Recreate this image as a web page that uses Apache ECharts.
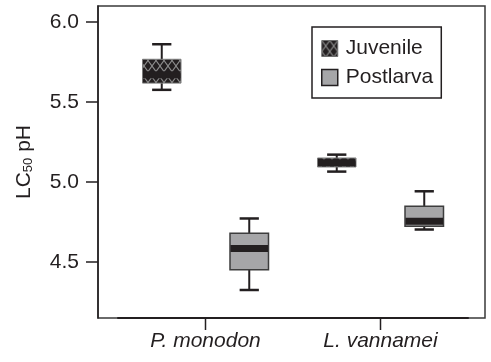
<!DOCTYPE html>
<html>
<head>
<meta charset="utf-8">
<script src="https://cdn.jsdelivr.net/npm/echarts@6/dist/echarts.min.js"></script>
<style>
  html, body { margin: 0; padding: 0; background: #fff; }
  #chart { width: 491px; height: 362px; }
</style>
</head>
<body>
<div id="chart"></div>
<script>
// Species on the x axis
const categories = ['P. monodon', 'L. vannamei'];
// Box statistics per species: [min, Q1, median, Q3, max] of LC50 pH
const juvenile = [
  [5.576, 5.618, 5.670, 5.767, 5.861],
  [5.065, 5.094, 5.120, 5.150, 5.171]
];
const postlarva = [
  [4.325, 4.452, 4.585, 4.680, 4.772],
  [4.703, 4.724, 4.755, 4.848, 4.942]
];
// Y axis tick labels
const yTicks = [4.5, 5.0, 5.5, 6.0];
// Category positions on the x axis
const xTicks = categories.map((c, i) => i);

const Y_MIN = 4.15, Y_MAX = 6.1;
const INK = '#231f20';
const FONT = 'Liberation Sans, Arial, Helvetica, sans-serif';
const FS = 21;

// Cross-hatch fill for the juvenile boxes
function makeHatch() {
  const c = document.createElement('canvas');
  c.width = 8; c.height = 11;
  const g = c.getContext('2d');
  g.fillStyle = INK;
  g.fillRect(0, 0, 8, 11);
  g.strokeStyle = '#8c8c8c';
  g.lineWidth = 1.1;
  g.beginPath();
  g.moveTo(0, 0); g.lineTo(8, 11);
  g.moveTo(8, 0); g.lineTo(0, 11);
  g.stroke();
  return { image: c, repeat: 'repeat' };
}
const hatch = makeHatch();
const POST_FILL = '#a6a6a8';

function toRows(stats) {
  return stats.map((s, i) => [i].concat(s));
}

function boxRenderer(offset, fill, border, borderWidth) {
  return function (params, api) {
    const cat = api.value(0);
    const band = api.size([1, 0])[0];
    const cx = api.coord([cat + offset, 0])[0];
    const y = k => api.coord([cat, api.value(k)])[1];
    const lo = y(1), q1 = y(2), med = y(3), q3 = y(4), hi = y(5);
    const bw = band * 0.22, cw = band * 0.11;
    const whisker = { stroke: INK, lineWidth: 2 };
    const cap = { stroke: INK, lineWidth: 2.5 };
    return {
      type: 'group',
      children: [
        { type: 'line', shape: { x1: cx, y1: hi, x2: cx, y2: q3 }, style: whisker },
        { type: 'line', shape: { x1: cx, y1: q1, x2: cx, y2: lo }, style: whisker },
        { type: 'line', shape: { x1: cx - cw / 2, y1: hi, x2: cx + cw / 2, y2: hi }, style: cap },
        { type: 'line', shape: { x1: cx - cw / 2, y1: lo, x2: cx + cw / 2, y2: lo }, style: cap },
        { type: 'rect', shape: { x: cx - bw / 2, y: q3, width: bw, height: q1 - q3 },
          style: { fill: fill, stroke: border, lineWidth: borderWidth } },
        { type: 'rect', shape: { x: cx - bw / 2 + 0.5, y: med - 3.5, width: bw - 1, height: 7 },
          style: { fill: INK } }
      ]
    };
  };
}

// Outward tick marks under each species on the x axis
function tickRenderer(params, api) {
  const p = api.coord([api.value(0), Y_MIN]);
  return {
    type: 'line',
    shape: { x1: p[0], y1: p[1], x2: p[0], y2: p[1] + 12 },
    style: { stroke: INK, lineWidth: 1.5 }
  };
}

const chart = echarts.init(document.getElementById('chart'), null, { renderer: 'canvas' });

chart.setOption({
  animation: false,
  textStyle: { fontFamily: FONT, color: INK },
  grid: [
    { left: 98, right: 6, top: 6, bottom: 44, show: true,
      borderColor: '#3a3a3a', borderWidth: 1.5, backgroundColor: 'transparent' },
    { left: 118, right: 23, top: 6, bottom: 44 }
  ],
  xAxis: [
    {
      gridIndex: 1, type: 'value', min: -0.5, max: 1.5,
      axisLine: { show: true, onZero: false, lineStyle: { color: INK, width: 2 } },
      axisTick: { show: false },
      axisLabel: { customValues: xTicks, formatter: v => categories[Math.round(v)],
                   fontSize: FS, fontStyle: 'italic', color: INK, fontFamily: FONT, margin: 13 },
      splitLine: { show: false }
    },
    { gridIndex: 0, type: 'value', min: 0, max: 1, show: false }
  ],
  yAxis: [
    {
      gridIndex: 0, type: 'value', min: Y_MIN, max: Y_MAX,
      name: '{a|LC}{s|50}{a| pH}',
      nameLocation: 'middle', nameRotate: 90, nameGap: 63,
      nameTextStyle: {
        rich: {
          a: { fontSize: FS, fontFamily: FONT, color: INK, verticalAlign: 'bottom', lineHeight: 26 },
          s: { fontSize: 13, fontFamily: FONT, color: INK, verticalAlign: 'bottom', lineHeight: 13 }
        }
      },
      axisLine: { show: true, lineStyle: { color: INK, width: 1.5 } },
      axisTick: { show: true, length: 12, customValues: yTicks, lineStyle: { color: INK, width: 1.5 } },
      axisLabel: {
        customValues: yTicks, fontSize: FS, color: INK, fontFamily: FONT, margin: 19,
        formatter: v => Number(v).toFixed(1)
      },
      splitLine: { show: false }
    },
    { gridIndex: 1, type: 'value', min: Y_MIN, max: Y_MAX, show: false }
  ],
  legend: {
    left: 312, top: 27, orient: 'vertical',
    borderColor: INK, borderWidth: 1.5, padding: [11, 8, 10, 9],
    itemWidth: 16, itemHeight: 16, itemGap: 8,
    textStyle: { fontSize: FS, color: INK, fontFamily: FONT, padding: [0, 0, 0, 3] },
    data: [
      { name: 'Juvenile', icon: 'rect', itemStyle: { color: hatch, borderColor: '#6e6e6e', borderWidth: 1 } },
      { name: 'Postlarva', icon: 'rect', itemStyle: { color: POST_FILL, borderColor: INK, borderWidth: 1.5 } }
    ]
  },
  series: [
    {
      name: 'Juvenile', type: 'custom', xAxisIndex: 0, yAxisIndex: 1,
      data: toRows(juvenile), encode: { x: 0, y: [1, 2, 3, 4, 5] },
      itemStyle: { color: INK },
      renderItem: boxRenderer(-0.25, hatch, '#7a7a7a', 1)
    },
    {
      name: 'Postlarva', type: 'custom', xAxisIndex: 0, yAxisIndex: 1,
      data: toRows(postlarva), encode: { x: 0, y: [1, 2, 3, 4, 5] },
      itemStyle: { color: POST_FILL },
      renderItem: boxRenderer(0.25, POST_FILL, '#3d3d3d', 1.5)
    },
    {
      name: 'ticks', type: 'custom', xAxisIndex: 0, yAxisIndex: 1,
      silent: true, clip: false,
      data: xTicks.map(v => [v]), encode: { x: 0 },
      renderItem: tickRenderer
    }
  ]
});
</script>
</body>
</html>
